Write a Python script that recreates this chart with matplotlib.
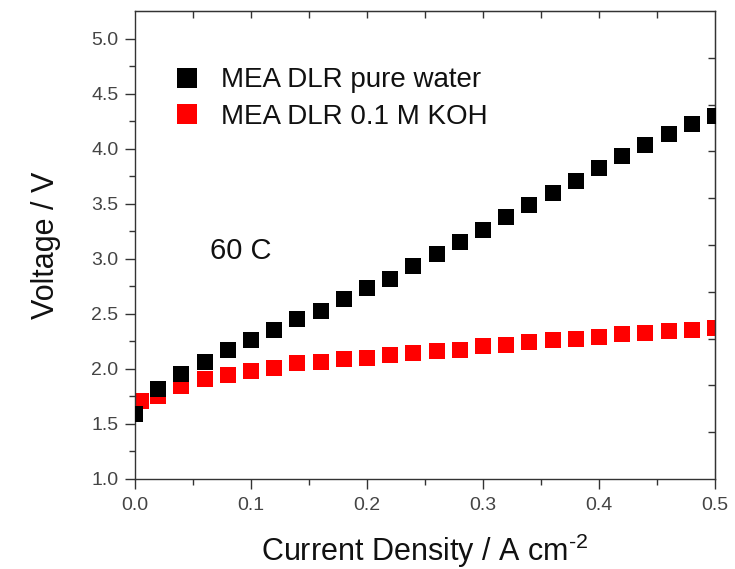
import numpy as np
import matplotlib.pyplot as plt

plt.rcParams['font.family'] = ['Liberation Sans', 'DejaVu Sans']
plt.rcParams['mathtext.fontset'] = 'custom'
plt.rcParams['mathtext.rm'] = 'Liberation Sans'

# data
x_water = [0.0, 0.02, 0.04, 0.06, 0.08, 0.10, 0.12, 0.14, 0.16, 0.18, 0.20, 0.22, 0.24,
           0.26, 0.28, 0.30, 0.32, 0.34, 0.36, 0.38, 0.40, 0.42, 0.44, 0.46, 0.48, 0.50]
v_water = [1.59, 1.82, 1.95, 2.06, 2.17, 2.26, 2.35, 2.45, 2.53, 2.63, 2.73, 2.82, 2.93,
           3.04, 3.15, 3.26, 3.38, 3.49, 3.60, 3.71, 3.82, 3.93, 4.03, 4.13, 4.22, 4.30]

x_koh = [0.005, 0.02, 0.04, 0.06, 0.08, 0.10, 0.12, 0.14, 0.16, 0.18, 0.20, 0.22, 0.24,
         0.26, 0.28, 0.30, 0.32, 0.34, 0.36, 0.38, 0.40, 0.42, 0.44, 0.46, 0.48, 0.50]
v_koh = [1.71, 1.75, 1.84, 1.91, 1.945, 1.98, 2.01, 2.05, 2.06, 2.09, 2.10, 2.13, 2.145,
         2.16, 2.17, 2.21, 2.22, 2.24, 2.26, 2.27, 2.29, 2.32, 2.33, 2.34, 2.35, 2.375]

labels = ['MEA DLR pure water', 'MEA DLR 0.1 M KOH']
gray = '#333333'

fig = plt.figure(figsize=(7.35, 5.69), dpi=100)
ax = fig.add_axes([0.1837, 0.1582, 0.7891, 0.8225])

ax.plot(x_koh, v_koh, 's', color='#ff0000', ms=11.5, mew=0, label=labels[1], zorder=2)
ax.plot(x_water, v_water, 's', color='#000000', ms=11.5, mew=0, label=labels[0], zorder=3)

ax.set_xlim(0, 0.5)
ax.set_ylim(1.0, 5.25)
ax.set_xticks(np.arange(0, 0.51, 0.1))
ax.set_xticks(np.arange(0.05, 0.5, 0.1), minor=True)
ax.set_yticks(np.arange(1.0, 5.01, 0.5))
ax.set_yticks(np.arange(1.25, 5.25, 0.5), minor=True)
ax.xaxis.set_major_formatter(plt.FormatStrFormatter('%.1f'))
ax.yaxis.set_major_formatter(plt.FormatStrFormatter('%.1f'))

ax.tick_params(which='both', direction='out', color=gray, width=1.0,
               labelsize=14, labelcolor='#444444', top=False, right=False)
ax.tick_params(which='major', length=7)
ax.tick_params(which='minor', length=4)
ax.tick_params(axis='x', pad=6)
ax.tick_params(axis='y', pad=5)
for s in ax.spines.values():
    s.set_color(gray)
    s.set_linewidth(1.0)

# top and right axes with inward ticks, as in the original
top = ax.secondary_xaxis('top')
top.set_xticks(np.arange(0.05, 0.5, 0.05))
top.tick_params(direction='in', length=5, width=1.0, color=gray, labeltop=False)
top.spines['top'].set_color(gray)
right = ax.secondary_yaxis('right')
right.set_yticks(np.linspace(1.0, 5.25, 11)[1:-1])
right.tick_params(direction='in', length=5, width=1.0, color=gray, labelright=False)
right.spines['right'].set_color(gray)

ax.set_ylabel('Voltage / V', fontsize=22, color='#111111', labelpad=22)
ax.set_xlabel('Current Density / A cm$^{\\mathregular{\u20102}}$', fontsize=22,
              color='#111111', labelpad=13)

ax.text(0.065, 3.07, '60 C', fontsize=21, color='#111111', va='center', ha='left')

h, l = ax.get_legend_handles_labels()
ax.legend(h[::-1], l[::-1], loc='upper left', bbox_to_anchor=(0.052, 0.903),
          frameon=False, fontsize=20, markerscale=1.3, handlelength=0.8,
          handletextpad=0.8, labelspacing=0.38, borderaxespad=0, labelcolor='#111111')

fig.savefig('out.png', dpi=100)
